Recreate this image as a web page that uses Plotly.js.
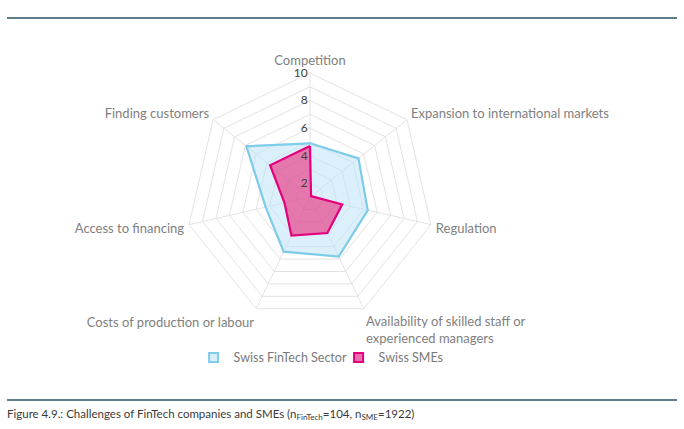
<!DOCTYPE html>
<html>
<head>
<meta charset="utf-8">
<script src="https://cdn.plot.ly/plotly-3.0.1.min.js"></script>
<style>html,body{margin:0;padding:0;background:#fff;}#chart{width:684px;height:429px;}</style>
</head>
<body>
<div id="chart"></div>
<script>
var categories = ["Competition", "Expansion to international markets", "Regulation",
  "Availability of skilled staff or<br>experienced managers", "Costs of production or labour",
  "Access to financing", "Finding customers"];
var fintechValues = [4.9, 5.5, 5.3, 5.8, 5.4, 4.3, 6.9];
var smeValues = [4.7, 1.1, 3.4, 3.9, 4.1, 2.9, 4.7];
var seriesNames = ["Swiss FinTech Sector", "Swiss SMEs"];
var tickValues = [2, 3, 4, 5, 6, 7, 8, 9, 10];
var tickLabels = ["2", "", "4", "", "6", "", "8", "", "10"];

var blueLine = "#7fcbea", blueFill = "rgba(190,228,246,0.55)";
var pinkLine = "#e5007d", pinkFill = "rgba(234,40,122,0.6)";

function closeLoop(a) { return a.concat([a[0]]); }

var traces = [
  {
    type: "scatterpolar",
    r: closeLoop(fintechValues),
    theta: closeLoop(categories),
    name: seriesNames[0],
    mode: "lines",
    fill: "toself",
    fillcolor: blueFill,
    line: {color: blueLine, width: 2.2},
    showlegend: false
  },
  {
    type: "scatterpolar",
    r: closeLoop(smeValues),
    theta: closeLoop(categories),
    name: seriesNames[1],
    mode: "lines",
    fill: "toself",
    fillcolor: pinkFill,
    line: {color: pinkLine, width: 2.2},
    showlegend: false
  },
  {
    type: "scatterpolar", r: [null], theta: [categories[0]], name: seriesNames[0],
    mode: "markers", marker: {symbol: "square", size: 9, color: "#d9eff9", line: {color: blueLine, width: 2}}
  },
  {
    type: "scatterpolar", r: [null], theta: [categories[0]], name: seriesNames[1],
    mode: "markers", marker: {symbol: "square", size: 9, color: "#e872ad", line: {color: pinkLine, width: 2}}
  }
];

var layout = {
  width: 684,
  height: 429,
  margin: {l: 0, r: 0, t: 0, b: 0},
  paper_bgcolor: "#ffffff",
  plot_bgcolor: "#ffffff",
  font: {family: "Lato, 'Open Sans', sans-serif", color: "#808080", size: 13},
  showlegend: true,
  legend: {
    orientation: "h",
    x: 0.495, xanchor: "center",
    y: 0.166, yanchor: "middle",
    bgcolor: "rgba(0,0,0,0)",
    font: {size: 12.5, color: "#7a7a7a"},
    itemwidth: 30,
    entrywidth: 100,
    entrywidthmode: "pixels",
    traceorder: "normal"
  },
  polar: {
    domain: {x: [0.2719, 0.6345], y: [0.2517, 0.8298]},
    gridshape: "linear",
    bgcolor: "rgba(0,0,0,0)",
    radialaxis: {
      range: [1, 10],
      angle: 90,
      tickangle: 90,
      side: "counterclockwise",
      tickvals: tickValues,
      ticktext: tickLabels,
      ticks: "",
      showline: false,
      gridcolor: "#e3e3e3",
      gridwidth: 1,
      tickfont: {size: 12, color: "#404040"}
    },
    angularaxis: {
      direction: "clockwise",
      rotation: 90,
      ticks: "outside",
      ticklen: 2,
      tickcolor: "rgba(0,0,0,0)",
      showline: true,
      linecolor: "#e3e3e3",
      linewidth: 1,
      gridcolor: "#e3e3e3",
      tickfont: {size: 13, color: "#808080"}
    }
  },
  shapes: [
    {type: "line", xref: "paper", yref: "paper", x0: 0.0102, x1: 0.9898, y0: 0.958, y1: 0.958,
     line: {color: "#5d7f8c", width: 2}},
    {type: "line", xref: "paper", yref: "paper", x0: 0.0102, x1: 0.9898, y0: 0.0676, y1: 0.0676,
     line: {color: "#5d7f8c", width: 2}}
  ],
  annotations: [
    {xref: "paper", yref: "paper", x: 0.007, y: 0.034, xanchor: "left", yanchor: "middle",
     showarrow: false,
     text: "Figure 4.9.: Challenges of FinTech companies and SMEs (n<sub>FinTech</sub>=104, n<sub>SME</sub>=1922)",
     font: {size: 11.5, color: "#3a3a3a"}}
  ]
};

Plotly.newPlot("chart", traces, layout, {displayModeBar: false, staticPlot: true});
</script>
</body>
</html>
